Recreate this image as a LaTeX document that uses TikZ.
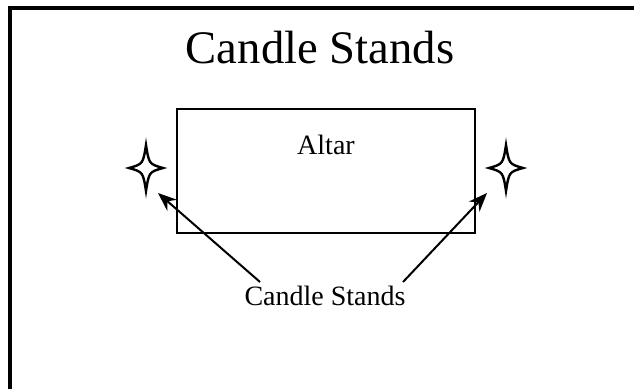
\documentclass[tikz,border=0pt]{standalone}
\usepackage{fontspec}
\setmainfont{Liberation Serif}
\usetikzlibrary{arrows, arrows.meta, positioning}

% four-pointed star marking a candle stand
\newcommand{\standstar}[1]{%
  \draw[line width=1.8pt, shift={(#1)}]
    (0,-23) .. controls (3,-4) .. (17,0)
            .. controls (3,4) .. (0,23)
            .. controls (-3,4) .. (-17,0)
            .. controls (-3,-4) .. cycle;}

\begin{document}
\begin{tikzpicture}[x=0.75pt, y=-0.75pt, >={Stealth[length=14pt, width=11pt]},
    every node/.style={inner sep=0pt, align=center},
    standtext/.style={font=\fontsize{21}{24}\selectfont}]

  \useasboundingbox (0,0) rectangle (634,389);

  % frame (left and top edge only)
  \draw[line width=3pt] (10,389) -- (10,8) -- (634,8);

  % title
  \node[anchor=base, font=\fontsize{35}{40}\selectfont] (Title) at (320,63) {Candle Stands};

  % altar
  \node[draw=black, line width=1.5pt, minimum width=223.5pt, minimum height=93pt] (Altar) at (326,171) {};
  \node[standtext, anchor=base] (AltarText) at (326,154) {Altar};

  % candle stands
  \coordinate (LeftStand) at (146,168);
  \coordinate (RightStand) at (506,168);
  \standstar{LeftStand}
  \standstar{RightStand}

  % pointer label
  \node[standtext, anchor=base] (Stands) at (325,305) {Candle Stands};
  \coordinate (LeftTail) at (260,282);
  \coordinate (RightTail) at (403,282);
  \coordinate (LeftTip) at (158,193);
  \coordinate (RightTip) at (487,193);

  % arrows to the stands
  \draw[->, line width=1.5pt] (LeftTail) -- (LeftTip);
  \draw[->, line width=1.5pt] (RightTail) -- (RightTip);

\end{tikzpicture}
\end{document}
